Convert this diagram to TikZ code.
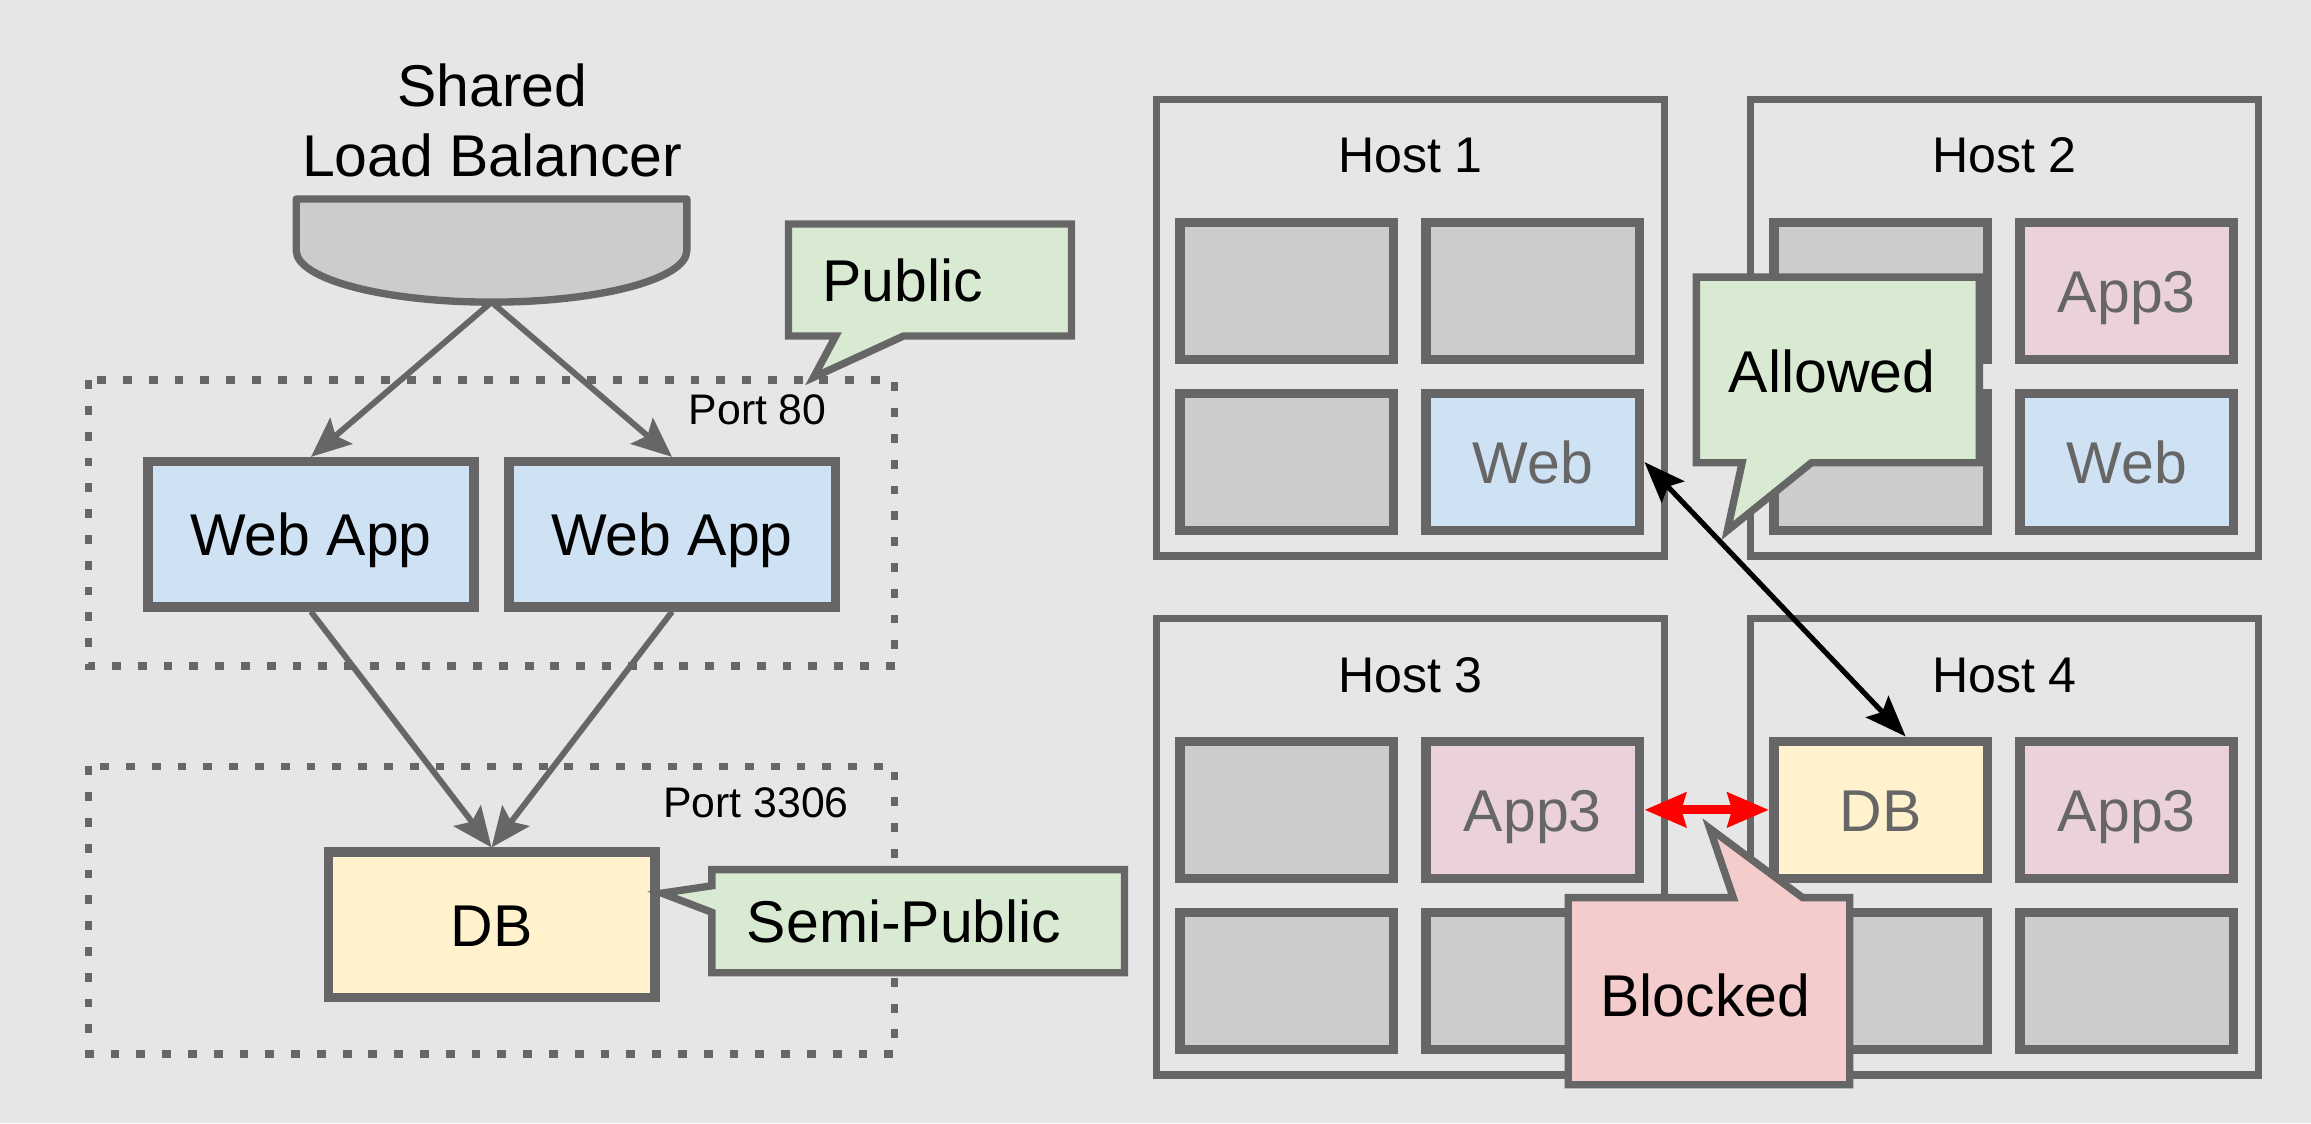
\documentclass[tikz,border=0pt]{standalone}
\usepackage{fontspec}
\setmainfont{Liberation Sans}
\usetikzlibrary{arrows.meta,calc}
\definecolor{bg}{HTML}{E6E6E6}
\definecolor{edge}{HTML}{666666}
\definecolor{cellgray}{HTML}{CCCCCC}
\definecolor{webblue}{HTML}{CFE2F3}
\definecolor{dbyellow}{HTML}{FFF2CC}
\definecolor{apppink}{HTML}{EAD1DC}
\definecolor{notegreen}{HTML}{D9EAD3}
\definecolor{notered}{HTML}{F4CCCC}
\begin{document}
\begin{tikzpicture}[x=1pt,y=-1pt,
  every node/.style={inner sep=0pt},
  bigfont/.style={font=\fontsize{40}{47}\selectfont, text height=29pt, text depth=0pt},
  hostfont/.style={font=\fontsize{34}{40}\selectfont, text height=24pt, text depth=0pt},
  portfont/.style={font=\fontsize{29}{34}\selectfont},
  appbox/.style={draw=edge, line width=6.5pt, minimum width=221.5pt, minimum height=98.5pt, bigfont},
  hostbox/.style={draw=edge, line width=5.2pt, minimum width=344.8pt, minimum height=309.8pt},
  cellbox/.style={draw=edge, line width=6.5pt, minimum width=145pt, minimum height=93pt, bigfont, text=edge, fill=cellgray},
  dotbox/.style={draw=edge, line width=5.2pt, dash pattern=on 6pt off 11.5pt},
  note/.style={draw=edge, line width=5pt, line join=miter},
  grayarrow/.style={draw=edge, line width=4pt, -{Stealth[length=27pt,width=23pt,inset=5pt]}},
  okarrow/.style={draw=black, line width=3.5pt, {Stealth[length=28pt,width=21pt,inset=5pt]}-{Stealth[length=28pt,width=21pt,inset=5pt]}},
  noarrow/.style={draw=red, line width=6pt, {Stealth[length=28pt,width=23pt,inset=3pt]}-{Stealth[length=28pt,width=23pt,inset=3pt]}}
]
\useasboundingbox (0,0) rectangle (1568,762);
\fill[bg] (0,0) rectangle (1568,762);

% ---------- left: load balancer ----------
\node[font=\fontsize{40}{47}\selectfont, anchor=base] (lbl1) at (334,72) {Shared};
\node[font=\fontsize{40}{47}\selectfont, anchor=base] (lbl2) at (334,120) {Load Balancer};
\draw[draw=edge, fill=cellgray, line width=5pt, line join=round]
  (201,135) -- (466,135) -- (466,170)
  .. controls (466,189.3) and (406.7,205) .. (333.5,205)
  .. controls (260.3,205) and (201,189.3) .. (201,170) -- cycle;
\coordinate (lb) at (333.5,205);

% port zones
\draw[dotbox] (60,258) rectangle (607,452);
\draw[dotbox] (60,520) rectangle (607,715);
\node[portfont, anchor=base east] (p80) at (561,288) {Port 80};
\node[portfont, anchor=base east] (p3306) at (576,555) {Port 3306};

% apps
\node[appbox, fill=webblue] (web1) at (211,362.5) {Web App};
\node[appbox, fill=webblue] (web2) at (456,362.5) {Web App};
\node[appbox, fill=dbyellow] (db) at (333.5,627.5) {DB};

\draw[grayarrow] (lb) -- (web1.north);
\draw[grayarrow] (lb) -- (web2.north);
\draw[grayarrow] (web1.south) -- (db.north);
\draw[grayarrow] (web2.south) -- (db.north);

% callouts left
\filldraw[note, fill=notegreen] (535,152) -- (727,152) -- (727,228) -- (613,228) -- (552,256) -- (567,228) -- (535,228) -- cycle;
\node[bigfont] (pub) at (612.5,190) {Public};
\filldraw[note, fill=notegreen] (483,590) -- (763,590) -- (763,660) -- (483,660) -- (483,619) -- (449,606) -- (483,601) -- cycle;
\node[bigfont] (semi) at (613.5,625) {Semi-Public};

% ---------- right: hosts ----------
\node[hostbox] (h1) at (957,222.5) {};
\node[hostbox] (h2) at (1360,222.5) {};
\node[hostbox] (h3) at (957,574.5) {};
\node[hostbox] (h4) at (1360,574.5) {};
\node[hostfont] (h1l) at (957,105) {Host 1};
\node[hostfont] (h2l) at (1360,105) {Host 2};
\node[hostfont] (h3l) at (957,458) {Host 3};
\node[hostfont] (h4l) at (1360,458) {Host 4};

% host 1
\node[cellbox] (h1c11) at (873,197.5) {};
\node[cellbox] (h1c12) at (1040,197.5) {};
\node[cellbox] (h1c21) at (873,313.5) {};
\node[cellbox, fill=webblue] (h1c22) at (1040,313.5) {Web};
% host 2
\node[cellbox] (h2c11) at (1276,197.5) {};
\node[cellbox, fill=apppink] (h2c12) at (1443,197.5) {App3};
\node[cellbox] (h2c21) at (1276,313.5) {};
\node[cellbox, fill=webblue] (h2c22) at (1443,313.5) {Web};
% host 3
\node[cellbox] (h3c11) at (873,549.5) {};
\node[cellbox, fill=apppink] (h3c12) at (1040,549.5) {App3};
\node[cellbox] (h3c21) at (873,665.5) {};
\node[cellbox] (h3c22) at (1040,665.5) {};
% host 4
\node[cellbox, fill=dbyellow] (h4c11) at (1276,549.5) {DB};
\node[cellbox, fill=apppink] (h4c12) at (1443,549.5) {App3};
\node[cellbox] (h4c21) at (1276,665.5) {};
\node[cellbox] (h4c22) at (1443,665.5) {};

% callouts right
\filldraw[note, fill=notegreen] (1151,188) -- (1343,188) -- (1343,314) -- (1229,314) -- (1172,360) -- (1182,314) -- (1151,314) -- cycle;
\node[bigfont] (allowed) at (1243,252) {Allowed};
\filldraw[note, fill=notered] (1064,609) -- (1176,609) -- (1160,562) -- (1223,609) -- (1255,609) -- (1255,736) -- (1064,736) -- cycle;
\node[bigfont] (blocked) at (1157,675) {Blocked};

% connectors
\draw[okarrow] (h1c22.east) -- ([xshift=17pt]h4c11.north);
\draw[noarrow] (h3c12.east) -- (h4c11.west);
\end{tikzpicture}
\end{document}
